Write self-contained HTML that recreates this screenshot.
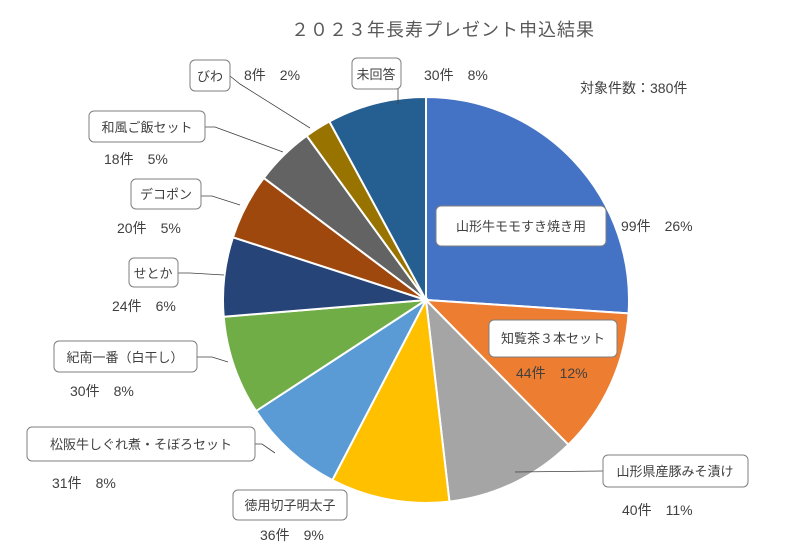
<!DOCTYPE html>
<html><head><meta charset="utf-8"><style>
body{margin:0;background:#fff;}
svg text{font-family:"Liberation Sans","Noto Sans CJK JP",sans-serif;fill:#404040;font-size:14px;}
</style></head><body>
<svg id="s" width="807" height="550" xmlns="http://www.w3.org/2000/svg">
<rect width="807" height="550" fill="#fff"/>
<g id="pie"></g>
<text x="443" y="36" text-anchor="middle" style="font-size:18px;fill:#595959;letter-spacing:1px">２０２３年長寿プレゼント申込結果</text>
<text x="580" y="93" style="font-size:14px">対象件数：380件</text>
<g stroke="#404040" stroke-width="0.8" fill="none">
<polyline points="603,471 515,472"/>
<polyline points="255,444 262,444 275,453"/>
<polyline points="197,357 212,357 228,362"/>
<polyline points="178,273 190,273 224,275"/>
<polyline points="201,196 212,196 240,205"/>
<polyline points="205,127 215,127 283,152"/>
<polyline points="230,76 240,84 310,128"/>
<polyline points="398,89 398,104"/>
</g>
<g fill="#fff" stroke="#7f7f7f" stroke-width="1">
<rect x="436" y="206" width="170" height="40" rx="5"/>
<rect x="489" y="320" width="128" height="37" rx="5"/>
<rect x="603" y="455" width="145" height="32" rx="5"/>
<rect x="233" y="490" width="114" height="30" rx="5"/>
<rect x="27" y="427" width="228" height="34" rx="5"/>
<rect x="54" y="341" width="143" height="31" rx="5"/>
<rect x="129" y="258" width="49" height="29" rx="5"/>
<rect x="131" y="179" width="70" height="30" rx="5"/>
<rect x="89" y="111" width="116" height="31" rx="5"/>
<rect x="190" y="60" width="40" height="31" rx="5"/>
<rect x="352" y="58" width="49" height="31" rx="5"/>
</g>
<g style="font-size:13px">
<text x="521" y="231" text-anchor="middle" style="font-size:13px">山形牛モモすき焼き用</text>
<text x="553" y="343" text-anchor="middle" style="font-size:13px">知覧茶３本セット</text>
<text x="675" y="476" text-anchor="middle" style="font-size:13px">山形県産豚みそ漬け</text>
<text x="290" y="510" text-anchor="middle" style="font-size:13px">徳用切子明太子</text>
<text x="141" y="449" text-anchor="middle" style="font-size:13px">松阪牛しぐれ煮・そぼろセット</text>
<text x="125" y="362" text-anchor="middle" style="font-size:13px">紀南一番（白干し）</text>
<text x="153" y="278" text-anchor="middle" style="font-size:13px">せとか</text>
<text x="166" y="199" text-anchor="middle" style="font-size:13px">デコポン</text>
<text x="147" y="132" text-anchor="middle" style="font-size:13px">和風ご飯セット</text>
<text x="210" y="81" text-anchor="middle" style="font-size:13px">びわ</text>
<text x="376" y="79" text-anchor="middle" style="font-size:13px">未回答</text>
</g>
<text x="621" y="231">99件　26%</text>
<text x="516" y="378">44件　12%</text>
<text x="622" y="515">40件　11%</text>
<text x="260" y="540">36件　9%</text>
<text x="52" y="488">31件　8%</text>
<text x="70" y="396">30件　8%</text>
<text x="112" y="311">24件　6%</text>
<text x="117" y="233">20件　5%</text>
<text x="104" y="164">18件　5%</text>
<text x="244" y="80">8件　2%</text>
<text x="424" y="80">30件　8%</text>
</svg>
<script>
var d=[99,44,40,36,31,30,24,20,18,8,30];
var c=["#4472C4","#ED7D31","#A5A5A5","#FFC000","#5B9BD5","#70AD47","#264478","#9E480E","#636363","#997300","#255E91"];
var cx=426,cy=300,r=203,t=380,a=0,g=document.getElementById("pie"),h="";
for(var i=0;i<d.length;i++){var a2=a+d[i]/t*2*Math.PI;
var x1=cx+r*Math.sin(a),y1=cy-r*Math.cos(a),x2=cx+r*Math.sin(a2),y2=cy-r*Math.cos(a2);
h+='<path d="M'+cx+','+cy+' L'+x1+','+y1+' A'+r+','+r+' 0 '+(a2-a>Math.PI?1:0)+' 1 '+x2+','+y2+' Z" fill="'+c[i]+'" stroke="#fff" stroke-width="2"/>';a=a2;}
g.innerHTML=h;
</script>
</body></html>
